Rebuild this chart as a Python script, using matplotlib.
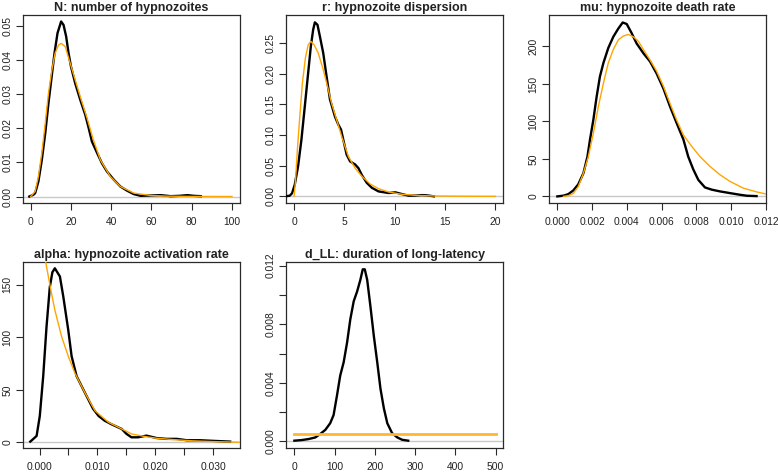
import matplotlib
matplotlib.use("Agg")
import matplotlib.pyplot as plt
import numpy as np

plt.rcParams['font.family'] = ['Liberation Sans', 'DejaVu Sans']

# ---------------- data ----------------
titles = ["N: number of hypnozoites", "r: hypnozoite dispersion",
          "mu: hypnozoite death rate", "alpha: hypnozoite activation rate",
          "d_LL: duration of long-latency"]

# Panel 1: N
n_post_x = [-0.7, 1.3, 2.2, 3.8, 5.5, 7.2, 8.8, 10.5, 11.8, 13.3, 15.1, 16.3, 17.6, 18.8, 20.0,
            22.1, 24.6, 27.1, 28.8, 30.4, 33.0, 35.4, 37.9, 41.3, 44.6, 47.9, 51.2, 54.6,
            59.6, 64.6, 69.6, 74.0, 77.9, 81.0, 84.5]
n_post_y = [0.0, 0.0005, 0.001, 0.0044, 0.0107, 0.0185, 0.0273, 0.0356, 0.0419, 0.0478, 0.0512,
            0.0502, 0.0468, 0.0419, 0.038, 0.0331, 0.0283, 0.0239, 0.020, 0.0161, 0.0127,
            0.0097, 0.0073, 0.0049, 0.0029, 0.0017, 0.0007, 0.0002, 0.0003, 0.0004, 0.0001,
            0.0002, 0.0004, 0.0002, 0.0001]
n_prior_x = [0.0, 2.2, 3.8, 5.5, 7.2, 8.8, 10.5, 12.1, 13.8, 15.1, 17.1, 19.6, 22.1, 24.6, 28.0,
             31.0, 34.6, 39.6, 44.6, 51.2, 59.6, 67.9, 80.0, 100.0]
n_prior_y = [0.0, 0.0015, 0.0058, 0.0127, 0.0214, 0.0302, 0.037, 0.0419, 0.0443, 0.0448, 0.0439,
             0.039, 0.0341, 0.0292, 0.0229, 0.0168, 0.0107, 0.0058, 0.0029, 0.001, 0.0003,
             0.0001, 0.00003, 0.0]

# Panel 2: r
r_post_x = [-0.87, -0.43, -0.2, 0.07, 0.4, 0.73, 1.07, 1.4, 1.67, 1.9, 2.07, 2.33, 2.57, 2.9,
            3.23, 3.57, 4.07, 4.4, 4.67, 4.9, 5.23, 5.57, 6.07, 6.4, 6.73, 7.23, 7.73, 8.4,
            9.4, 10.07, 10.7, 11.4, 12.0, 12.7, 13.2, 13.9]
r_post_y = [0.0, 0.001, 0.005, 0.019, 0.049, 0.092, 0.147, 0.201, 0.245, 0.272, 0.284, 0.28,
            0.261, 0.234, 0.196, 0.158, 0.13, 0.117, 0.109, 0.092, 0.068, 0.057, 0.052, 0.046,
            0.035, 0.022, 0.014, 0.008, 0.0054, 0.0065, 0.0038, 0.001, 0.0012, 0.002, 0.0016, 0.0]
r_prior_x = [0.0, 0.13, 0.33, 0.57, 0.83, 1.13, 1.4, 1.67, 2.0, 2.4, 2.9, 3.33, 3.73, 4.23,
             4.73, 5.4, 6.07, 6.73, 7.57, 8.4, 9.4, 10.73, 12.07, 14.07, 17.0, 20.0]
r_prior_y = [0.0, 0.022, 0.076, 0.13, 0.185, 0.226, 0.247, 0.253, 0.247, 0.234, 0.207, 0.179,
             0.152, 0.125, 0.098, 0.065, 0.046, 0.033, 0.02, 0.0125, 0.007, 0.0033, 0.0016,
             0.0005, 0.0001, 0.0]

# Panel 3: mu
mu_post_x = [0.0, 0.00035, 0.00063, 0.00092, 0.0012, 0.0015, 0.00173, 0.00188, 0.00207,
             0.00226, 0.00245, 0.00265, 0.00293, 0.00322, 0.00351, 0.00376, 0.00399, 0.00427,
             0.00456, 0.00495, 0.00533, 0.00571, 0.0061, 0.00648, 0.00686, 0.00725, 0.00753,
             0.00782, 0.00811, 0.00849, 0.00888, 0.00935, 0.00993, 0.0105, 0.0109, 0.01146]
mu_post_y = [0, 1, 3, 8, 16, 31, 53, 76, 102, 133, 160, 178, 198, 213, 224, 232, 230, 218, 204,
             191, 180, 164, 144, 120, 98, 76, 53, 36, 22, 12, 9, 6.7, 4.4, 2.2, 0.9, 0.4]
mu_prior_x = [0.00035, 0.00063, 0.00092, 0.0012, 0.0015, 0.00178, 0.00207, 0.00236, 0.00265,
              0.00293, 0.00322, 0.00351, 0.0038, 0.00408, 0.00437, 0.00466, 0.00495, 0.00533,
              0.00571, 0.0061, 0.00648, 0.00686, 0.00725, 0.00772, 0.00821, 0.00878, 0.00935,
              0.00993, 0.0107, 0.01146, 0.01204]
mu_prior_y = [0, 1, 4, 13, 31, 53, 84, 120, 151, 178, 196, 209, 214, 216, 213, 207, 196, 182,
              167, 147, 124, 102, 82, 67, 53, 40, 29, 20, 11, 6, 3]

# Panel 4: alpha
a_post_x = [-0.0016, -0.0014, -0.0005, 0.00005, 0.00064, 0.00121, 0.00178, 0.00222, 0.00265,
            0.00352, 0.0041, 0.00496, 0.00554, 0.0064, 0.00785, 0.00923, 0.0102, 0.01125,
            0.01246, 0.0142, 0.015, 0.01587, 0.017, 0.01846, 0.0202, 0.0219, 0.0237, 0.0254,
            0.0277, 0.030, 0.0329]
a_post_y = [0.6, 1.5, 6, 25, 63, 110, 148, 162, 165.8, 158, 139, 107, 82, 63, 47, 32, 25,
            20.5, 17, 12.6, 8, 4.7, 4.7, 6.3, 4, 3.2, 3.2, 1.9, 1.9, 1.3, 0.6]
a_prior_x = [0.0, 0.00104, 0.00196, 0.00265, 0.0038, 0.00496, 0.0061, 0.00785, 0.00958,
             0.0119, 0.0159, 0.0179, 0.0202, 0.0231, 0.0265, 0.030, 0.0346]
a_prior_y = [205, 172.6, 145, 126, 101, 82, 66, 47, 30, 19, 7.9, 5.7, 3.8, 2.5, 1.3, 0.6, 0.0]

# Panel 5: d_LL
d_post_x = [0, 18, 35, 52, 64, 77, 89, 97.5, 106, 114, 122.5, 131, 139, 147.5, 156, 164, 170,
            175, 181, 189, 197.5, 206, 214, 222.5, 231, 243, 256, 268, 283]
d_post_y = [0.00005, 0.00009, 0.00016, 0.00027, 0.0005, 0.00079, 0.00124, 0.0018, 0.00315,
            0.0045, 0.0054, 0.00675, 0.00833, 0.00957, 0.01024, 0.01103, 0.01175, 0.01175,
            0.01103, 0.00923, 0.0072, 0.0054, 0.0036, 0.00225, 0.00124, 0.00056, 0.00027,
            0.00011, 0.00005]
d_prior_x = [0, 500]
d_prior_y = [0.0005, 0.0005]

# ticks
xticks = [[0, 20, 40, 60, 80, 100], [0, 5, 10, 15, 20],
          [0.0, 0.002, 0.004, 0.006, 0.008, 0.010, 0.012],
          [0.0, 0.005, 0.010, 0.015, 0.020, 0.025, 0.030],
          [0, 100, 200, 300, 400, 500]]
xticklabels = [["0", "20", "40", "60", "80", "100"], ["0", "5", "10", "15", "20"],
               ["0.000", "0.002", "0.004", "0.006", "0.008", "0.010", "0.012"],
               ["0.000", "", "0.010", "", "0.020", "", "0.030"],
               ["0", "100", "200", "300", "400", "500"]]
yticks = [[0, 0.01, 0.02, 0.03, 0.04, 0.05], [0, 0.05, 0.10, 0.15, 0.20, 0.25],
          [0, 50, 100, 150, 200], [0, 50, 100, 150],
          [0, 0.002, 0.004, 0.006, 0.008, 0.010, 0.012]]
yticklabels = [["0.00", "0.01", "0.02", "0.03", "0.04", "0.05"],
               ["0.00", "0.05", "0.10", "0.15", "0.20", "0.25"],
               ["0", "50", "100", "150", "200"], ["0", "50", "100", "150"],
               ["0.000", "", "0.004", "", "0.008", "", "0.012"]]

xlims = [(-4, 104), (-0.8, 20.8), (-0.00048, 0.01202), (-0.0029, 0.0346), (-20.8, 519.3)]
ylims = [(-0.0019, 0.0531), (-0.0109, 0.296), (-8.8, 242), (-5.5, 171.8), (-0.00045, 0.01225)]

posts = [(n_post_x, n_post_y), (r_post_x, r_post_y), (mu_post_x, mu_post_y),
         (a_post_x, a_post_y), (d_post_x, d_post_y)]
priors = [(n_prior_x, n_prior_y), (r_prior_x, r_prior_y), (mu_prior_x, mu_prior_y),
          (a_prior_x, a_prior_y), (d_prior_x, d_prior_y)]

W, H = 778, 472
fig = plt.figure(figsize=(W / 100, H / 100), dpi=100)

lefts = [22.7, 286, 549, 22.7, 286]
tops = [15, 15, 15, 262, 262]
bottoms = [203, 203, 203, 448, 448]
bw = 217.3

edge = '#2a2a2a'
for i in range(5):
    l, t, b = lefts[i], tops[i], bottoms[i]
    ax = fig.add_axes([l / W, 1 - b / H, bw / W, (b - t) / H])
    ax.axhline(0, color='#c8c8c8', lw=1.0, zorder=1)
    px, py = posts[i]
    qx, qy = priors[i]
    ax.plot(px, py, color='black', lw=1.7, zorder=3, solid_joinstyle='round')
    if i == 4:
        ax.plot(qx, qy, color='#FFB733', lw=2.0, zorder=4)
    else:
        ax.plot(qx, qy, color='#FFA500', lw=1.0, zorder=4)
    ax.set_xlim(*xlims[i])
    ax.set_ylim(*ylims[i])
    ax.set_xticks(xticks[i])
    ax.set_xticklabels(xticklabels[i])
    ax.set_yticks(yticks[i])
    ax.set_yticklabels(yticklabels[i], rotation=90, va='center')
    ax.tick_params(direction='out', length=5, width=0.8, colors=edge, labelsize=7.4,
                   labelcolor='#222222')
    ax.tick_params(axis='x', pad=5.0)
    ax.tick_params(axis='y', pad=2.5)
    for s in ax.spines.values():
        s.set_color(edge)
        s.set_linewidth(0.9)
    ax.set_title(titles[i], fontsize=9, fontweight='bold', color='#222222', pad=3)

fig.savefig("out.png", dpi=100)
